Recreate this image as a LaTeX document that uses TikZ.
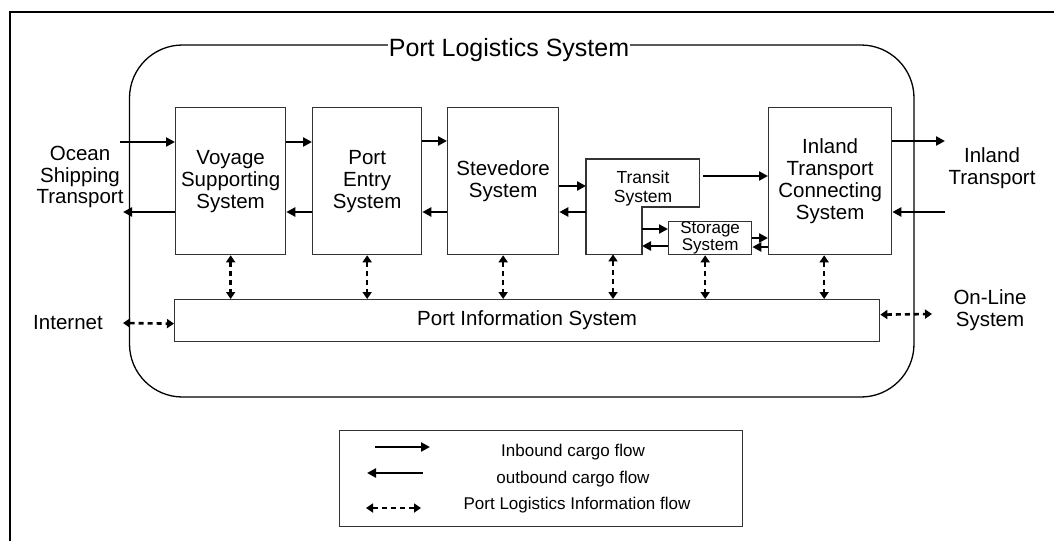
\documentclass[tikz,border=0pt]{standalone}
\usepackage{fontspec}
\setmainfont{Liberation Sans}
\usetikzlibrary{arrows.meta}

\tikzset{
  sysbox/.style={draw=black!80, line width=1.3pt, fill=white, align=center,
    inner sep=1pt, font=\fontsize{20.5}{22}\selectfont},
  smallbox/.style={sysbox, inner sep=0pt, font=\fontsize{17}{17}\selectfont},
  lbl/.style={align=center, font=\fontsize{20.5}{21.5}\selectfont},
  keylbl/.style={font=\fontsize{17}{17}\selectfont},
  flow/.style={line width=2.5pt, -{Triangle[length=9pt,width=9pt]}},
  info/.style={line width=2.6pt, dash pattern=on 5pt off 4pt,
    {Triangle[length=7pt,width=9pt]}-{Triangle[length=7pt,width=9pt]}}
}

\begin{document}
\begin{tikzpicture}[x=1pt, y=-1pt]
\useasboundingbox (0,0) rectangle (1054,541);
% Frame and port area
    \draw[line width=1.5pt] (10,541) -- (10,12) -- (1054,12);
    \draw[line width=1.3pt, rounded corners=53pt] (129.5,45) rectangle (914,397);
    \node[lbl, font=\fontsize{25}{25}\selectfont, fill=white, inner xsep=1pt,
      anchor=base] (title) at (509,56.5) {Port Logistics System};
% Subsystems
    \node[sysbox, minimum width=110, minimum height=147, anchor=north west]
      (voyage) at (175,107) {Voyage\\Supporting\\System};
    \node[sysbox, minimum width=109, minimum height=147, anchor=north west]
      (entry) at (312,107) {Port\\Entry\\System};
    \node[sysbox, minimum width=111, minimum height=147, anchor=north west]
      (steve) at (447,107) {Stevedore\\System};
    \node[minimum width=113, minimum height=95, inner sep=0pt, anchor=north west]
      (transit) at (586,159) {};
    \coordinate (tnotch) at (642,207);
    \draw[line width=1.3pt, draw=black!80] (transit.south west) |- (transit.north east)
      -- (transit.east |- tnotch) -- (tnotch) -- (tnotch |- transit.south) -- cycle;
    \node[lbl, font=\fontsize{17.5}{19}\selectfont] (transitlbl) at (643,188) {Transit\\System};
    \node[smallbox, minimum width=83, minimum height=33, anchor=north west]
      (storage) at (668,221) {Storage\\System};
    \node[sysbox, minimum width=123, minimum height=147, anchor=north west]
      (inland) at (768,107) {Inland\\Transport\\Connecting\\System};
    \node[sysbox, minimum width=705, minimum height=42, anchor=north west]
      (info) at (174,299) {Port Information System};
% Outside
    \node[lbl] (ocean) at (80,177) {Ocean\\Shipping\\Transport};
    \node[lbl] (inlandtr) at (992,168) {Inland\\Transport};
    \node[lbl] (internet) at (68,323) {Internet};
    \node[lbl] (online) at (990,310) {On-Line\\System};
    \coordinate (oceanin) at (120,142);
    \coordinate (oceanout) at (123,212);
    \coordinate (inlandout) at (945,141);
    \coordinate (inlandin) at (945,212);
    \coordinate (internetpt) at (123,323);
    \coordinate (onlinept) at (932,314);
% Inbound cargo
    \draw[flow] (oceanin) -- ([yshift=-35pt]voyage.north west);
    \draw[flow] ([yshift=-35pt]voyage.north east) -- ([yshift=-35pt]entry.north west);
    \draw[flow] ([yshift=-34pt]entry.north east) -- ([yshift=-34pt]steve.north west);
    \draw[flow] ([yshift=-79pt]steve.north east) -- ([yshift=-27pt]transit.north west);
    \draw[flow] ([xshift=4pt,yshift=-17pt]transit.north east) -- ([yshift=-69pt]inland.north west);
    \draw[flow] ([yshift=-22pt]tnotch) -- ([yshift=-8pt]storage.north west);
    \draw[flow] ([yshift=-17pt]storage.north east) -- ([yshift=-131pt]inland.north west);
    \draw[flow] ([yshift=-34pt]inland.north east) -- (inlandout);
% Outbound cargo
    \draw[flow] (inlandin) -- ([yshift=-105pt]inland.north east);
    \draw[flow] ([yshift=-140pt]inland.north west) -- ([yshift=-26pt]storage.north east);
    \draw[flow] ([yshift=-25pt]storage.north west) -- ([yshift=-39pt]tnotch);
    \draw[flow] ([yshift=-53pt]transit.north west) -- ([yshift=-105pt]steve.north east);
    \draw[flow] ([yshift=-105pt]steve.north west) -- ([yshift=-105pt]entry.north east);
    \draw[flow] ([yshift=-105pt]entry.north west) -- ([yshift=-105pt]voyage.north east);
    \draw[flow] ([yshift=-105pt]voyage.north west) -- (oceanout);
% Information flow
    \draw[info] (voyage.south) -- (voyage.south |- info.north);
    \draw[info] (entry.south) -- (entry.south |- info.north);
    \draw[info] (steve.south) -- (steve.south |- info.north);
    \draw[info] ([xshift=27pt]transit.south west) -- ([xshift=27pt]transit.south west |- info.north);
    \draw[info] ([xshift=-5pt]storage.south) -- ([xshift=-5pt]storage.south |- info.north);
    \draw[info] ([xshift=-6pt]inland.south) -- ([xshift=-6pt]inland.south |- info.north);
    \draw[info] (internetpt) -- ([yshift=-3pt]info.west);
    \draw[info] ([yshift=6pt]info.east) -- (onlinept);
% Legend
    \node[draw=black!80, line width=1.3pt, minimum width=403, minimum height=96,
      anchor=north west] (legend) at (339,430) {};
    \draw[flow] ([xshift=36pt,yshift=-17pt]legend.north west) -- ([xshift=91pt,yshift=-17pt]legend.north west);
    \draw[flow] ([xshift=84pt,yshift=-43pt]legend.north west) -- ([xshift=28pt,yshift=-43pt]legend.north west);
    \draw[info] ([xshift=27pt,yshift=-78pt]legend.north west) -- ([xshift=82pt,yshift=-78pt]legend.north west);
    \node[keylbl] (inbound) at (573,452) {Inbound cargo flow};
    \node[keylbl] (outbound) at (573,479) {outbound cargo flow};
    \node[keylbl] (infoflow) at (577,505) {Port Logistics Information flow};
\end{tikzpicture}
\end{document}
